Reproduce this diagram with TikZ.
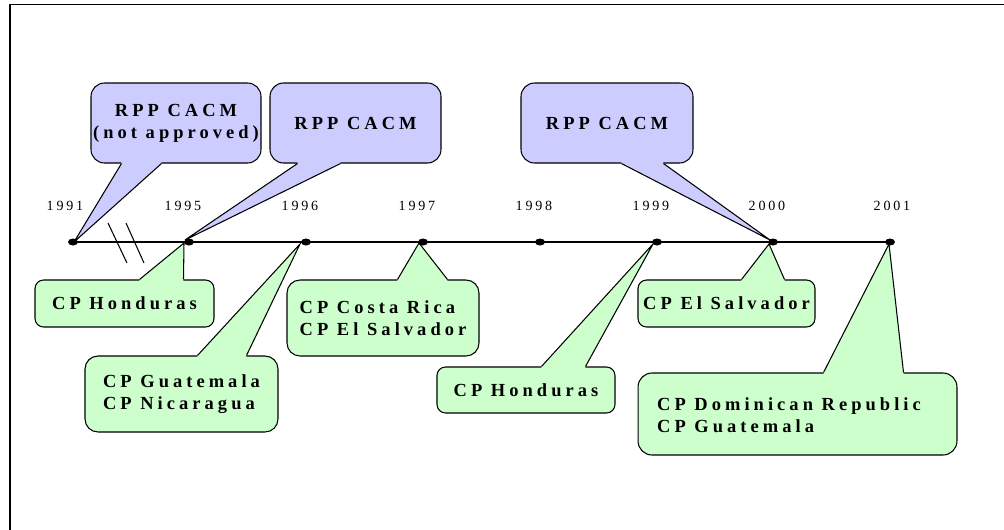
\documentclass[tikz,border=0pt]{standalone}
\usepackage{fontspec}
\setmainfont{Liberation Serif}
\newfontfamily\lblfont{Liberation Serif}[LetterSpace=22]
\newfontfamily\yrfont{Liberation Serif}[LetterSpace=20]
\usetikzlibrary{calc,shapes.geometric}
\definecolor{callblue}{HTML}{CCCCFF}
\definecolor{callgreen}{HTML}{CCFFCC}
\tikzset{
  tl/.style={draw=black, line width=0.6pt},
  dot/.style={ellipse, fill=black, inner sep=0pt, minimum width=0.2cm, minimum height=0.14cm},
  callbox/.style={draw=black, line width=0.6pt, rounded corners=#1, align=center, inner sep=0pt,
    font={\lblfont\bfseries\fontsize{10.5}{12.5}\selectfont}},
  bluebox/.style={callbox=#1, fill=callblue},
  greenbox/.style={callbox=#1, fill=callgreen},
  year/.style={inner sep=0pt, font={\yrfont\fontsize{8}{9}\selectfont}}
}
\newcommand{\calltail}[5]{%
  \fill[#1] ($#2+(0,#5)$) -- #2 -- #3 -- #4 -- ($#4+(0,#5)$) -- cycle;
  \draw[tl, line join=miter] #2 -- #3 -- #4;
}
\begin{document}
\begin{tikzpicture}[x=0.02cm, y=-0.02cm]
\useasboundingbox (0,0) rectangle (1004,529);
\clip (0,0) rectangle (1004,529);
\fill[white] (0,0) rectangle (1004,529);
% frame
\draw[line width=1.1pt] (10,4.5) rectangle (1100,620);

% timeline dots (positions)
\foreach \n/\x in {1/73,2/189,3/306,4/423,5/540,6/657,7/773,8/890}
  \coordinate (c\n) at (\x,242);
\draw[tl] (c1) -- (c8);
% break marks
\draw[tl] (108,223) -- (127,263);
\draw[tl] (126,223) -- (144,263);

% blue callouts
\node[bluebox=0.27cm, minimum width=3.4cm, minimum height=1.6cm] (B1) at (176,123) {RPP CACM\\(not approved)};
\node[bluebox=0.27cm, minimum width=3.42cm, minimum height=1.6cm] (B2) at (355.5,123) {RPP CACM};
\node[bluebox=0.27cm, minimum width=3.44cm, minimum height=1.6cm] (B3) at (607,123) {RPP CACM};

% green callouts
\node[greenbox=0.17cm, minimum width=3.58cm, minimum height=0.94cm] (G1) at (124.5,303.5) {CP Honduras};
\node[greenbox=0.26cm, minimum width=3.86cm, minimum height=1.52cm, align=left] (G2) at (181.5,394) {CP Guatemala\\CP Nicaragua};
\node[greenbox=0.26cm, minimum width=3.84cm, minimum height=1.52cm, align=left] (G3) at (383,318) {CP Costa Rica\\CP El Salvador};
\node[greenbox=0.17cm, minimum width=3.56cm, minimum height=0.92cm] (G4) at (526,390) {CP Honduras};
\node[greenbox=0.17cm, minimum width=3.54cm, minimum height=0.94cm] (G5) at (726.5,303.5) {CP El Salvador};
\node[greenbox=0.28cm, minimum width=6.38cm, minimum height=1.64cm] (G6) at (797.5,414) {};
\node[inner sep=0pt, align=left, font={\lblfont\bfseries\fontsize{10.5}{12.5}\selectfont}] (G6t) at (789,415) {CP Dominican Republic\\CP Guatemala};

% tail bases
\coordinate (B1l) at ($(B1.south west)+(31,0)$);
\coordinate (B1r) at ($(B1.south west)+(71,0)$);
\coordinate (B2l) at ($(B2.south west)+(28,0)$);
\coordinate (B2r) at ($(B2.south west)+(71,0)$);
\coordinate (B3l) at ($(B3.south west)+(101,0)$);
\coordinate (B3r) at ($(B3.south west)+(143,0)$);
\coordinate (G1l) at ($(G1.north west)+(105,0)$);
\coordinate (G1r) at ($(G1.north west)+(149,0)$);
\coordinate (G2l) at ($(G2.north west)+(113,0)$);
\coordinate (G2r) at ($(G2.north west)+(162,0)$);
\coordinate (G3l) at ($(G3.north west)+(111,0)$);
\coordinate (G3r) at ($(G3.north west)+(161,0)$);
\coordinate (G4l) at ($(G4.north west)+(105,0)$);
\coordinate (G4r) at ($(G4.north west)+(149,0)$);
\coordinate (G5l) at ($(G5.north west)+(104,0)$);
\coordinate (G5r) at ($(G5.north west)+(147,0)$);
\coordinate (G6l) at ($(G6.north west)+(186,0)$);
\coordinate (G6r) at ($(G6.north west)+(266,0)$);

% apexes near dots
\coordinate (aB1) at ($(c1)+(1,0)$);
\coordinate (aB2) at ($(c2)+(-4,-2)$);
\coordinate (aB3) at ($(c7)+(-3,-2)$);
\coordinate (aG1) at ($(c2)+(-5,1)$);
\coordinate (aG2) at ($(c3)+(-6,2)$);
\coordinate (aG3) at ($(c4)+(-4,1)$);
\coordinate (aG4) at ($(c6)+(-4,2)$);
\coordinate (aG5) at ($(c7)+(-4,2)$);
\coordinate (aG6) at ($(c8)+(-1,2)$);

\calltail{callblue}{(B1l)}{(aB1)}{(B1r)}{-2}
\calltail{callblue}{(B2l)}{(aB2)}{(B2r)}{-2}
\calltail{callblue}{(B3l)}{(aB3)}{(B3r)}{-2}
\calltail{callgreen}{(G1l)}{(aG1)}{(G1r)}{2}
\calltail{callgreen}{(G2l)}{(aG2)}{(G2r)}{2}
\calltail{callgreen}{(G3l)}{(aG3)}{(G3r)}{2}
\calltail{callgreen}{(G4l)}{(aG4)}{(G4r)}{2}
\calltail{callgreen}{(G5l)}{(aG5)}{(G5r)}{2}
\calltail{callgreen}{(G6l)}{(aG6)}{(G6r)}{2}

% dots
\foreach \n in {1,...,8}
  \node[dot] (d\n) at (c\n) {};

% years
\node[year] (y1) at (65,206) {1991};
\node[year] (y2) at (183,206) {1995};
\node[year] (y3) at (300,206) {1996};
\node[year] (y4) at (417,206) {1997};
\node[year] (y5) at (534,206) {1998};
\node[year] (y6) at (651,206) {1999};
\node[year] (y7) at (767,206) {2000};
\node[year] (y8) at (892,206) {2001};
\end{tikzpicture}
\end{document}
